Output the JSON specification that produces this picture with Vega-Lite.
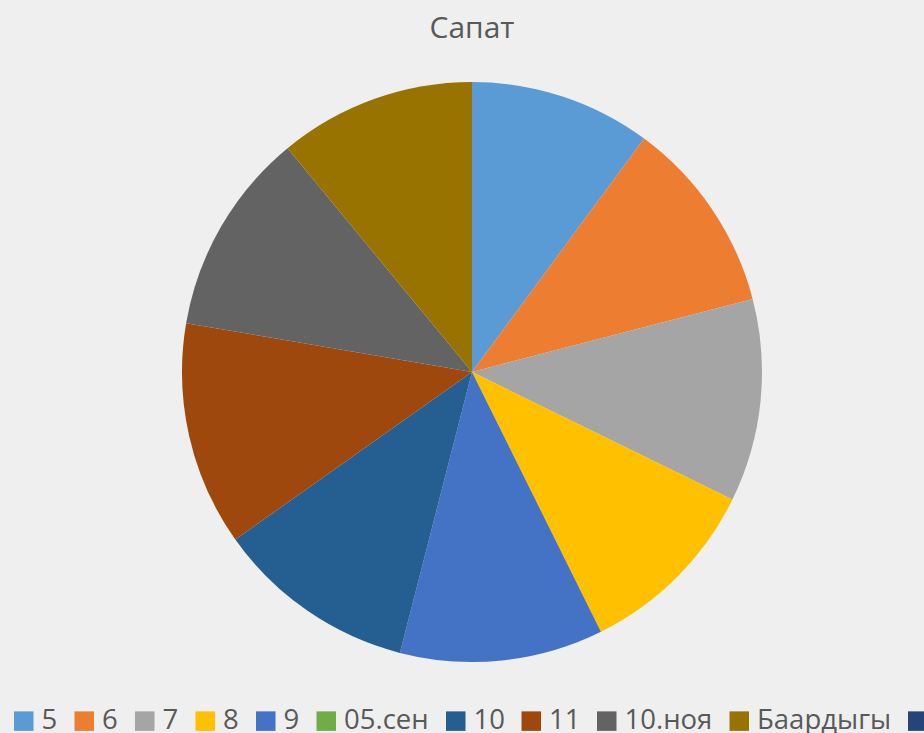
{
  "$schema": "https://vega.github.io/schema/vega-lite/v6.json",
  "width": 944,
  "height": 744,
  "autosize": {"type": "none"},
  "padding": 0,
  "background": "#efefef",
  "title": {
    "text": "Сапат",
    "font": "Open Sans",
    "fontSize": 30,
    "fontWeight": "normal",
    "color": "#595959",
    "anchor": "middle",
    "offset": -44
  },
  "data": {
    "values": [
      {"label": "5", "value": 36.4, "order": 1},
      {"label": "6", "value": 39.0, "order": 2},
      {"label": "7", "value": 40.7, "order": 3},
      {"label": "8", "value": 37.5, "order": 4},
      {"label": "9", "value": 40.8, "order": 5},
      {"label": "05.сен", "value": 0, "order": 6},
      {"label": "10", "value": 40.3, "order": 7},
      {"label": "11", "value": 45.0, "order": 8},
      {"label": "10.ноя", "value": 40.8, "order": 9},
      {"label": "Баардыгы", "value": 39.5, "order": 10},
      {"label": "12", "value": 0, "order": 11}
    ]
  },
  "mark": {"type": "arc", "outerRadius": 290, "strokeWidth": 0},
  "encoding": {
    "theta": {"field": "value", "type": "quantitative", "stack": true},
    "order": {"field": "order", "type": "quantitative"},
    "color": {
      "field": "label",
      "type": "nominal",
      "sort": null,
      "scale": {
        "domain": ["5", "6", "7", "8", "9", "05.сен", "10", "11", "10.ноя", "Баардыгы", "12"],
        "range": ["#5b9bd5", "#ed7d31", "#a5a5a5", "#ffc000", "#4472c4", "#70ad47", "#255e91", "#9e480e", "#636363", "#997300", "#264478"]
      },
      "legend": {
        "title": null,
        "orient": "none",
        "direction": "horizontal",
        "legendX": 10,
        "legendY": 707,
        "symbolType": "square",
        "symbolSize": 380,
        "symbolStrokeWidth": 0,
        "symbolOpacity": 1,
        "labelFont": "Open Sans",
        "labelFontSize": 27.5,
        "labelColor": "#595959",
        "labelOffset": 4,
        "columnPadding": 12.5,
        "padding": 0,
        "labelLimit": 400
      }
    }
  },
  "config": {
    "view": {"stroke": null, "fill": null}
  }
}
